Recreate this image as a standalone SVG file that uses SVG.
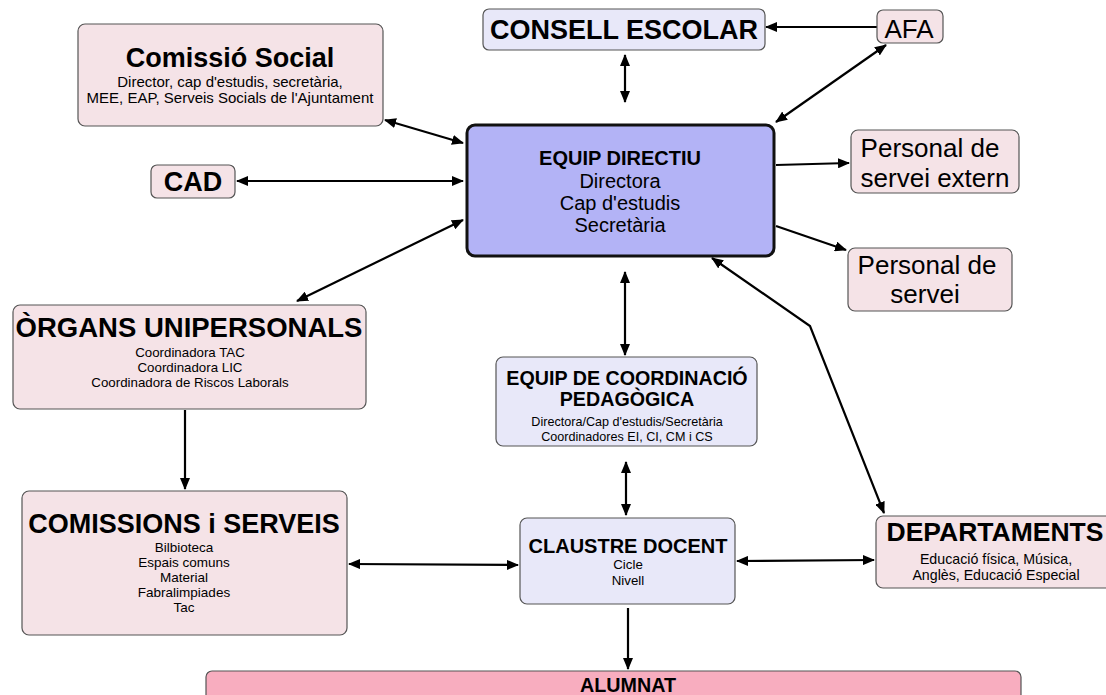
<svg xmlns="http://www.w3.org/2000/svg" width="1106" height="695" viewBox="0 0 1106 695">
<defs>
<marker id="ah" viewBox="0 0 12 10" refX="11" refY="5" markerWidth="12" markerHeight="10" markerUnits="userSpaceOnUse" orient="auto-start-reverse">
<path d="M0,0 L12,5 L0,10 Z" fill="#000"/>
</marker>
<style>
.pink{fill:#f5e3e7;stroke:#555;stroke-width:1.2}
.lav{fill:#e8e8f9;stroke:#555;stroke-width:1.2}
.t{font-family:"Liberation Sans",Arial,sans-serif;fill:#000;text-anchor:middle}
.b{font-weight:bold}
.c line,.c polyline{stroke:#000;stroke-width:2.2;fill:none}
</style>
</defs>
<rect width="1106" height="695" fill="#fff"/>
<g class="c">
<line x1="877" y1="27" x2="766" y2="27" marker-end="url(#ah)"/>
<line x1="625" y1="55" x2="625" y2="102" marker-start="url(#ah)" marker-end="url(#ah)"/>
<line x1="886" y1="45" x2="776" y2="122" marker-start="url(#ah)" marker-end="url(#ah)"/>
<line x1="385" y1="120" x2="463" y2="143" marker-start="url(#ah)" marker-end="url(#ah)"/>
<line x1="237" y1="181" x2="463" y2="181" marker-start="url(#ah)" marker-end="url(#ah)"/>
<line x1="776" y1="165" x2="849" y2="163" marker-end="url(#ah)"/>
<line x1="776" y1="226" x2="846" y2="250" marker-end="url(#ah)"/>
<line x1="463" y1="220" x2="297" y2="301" marker-start="url(#ah)" marker-end="url(#ah)"/>
<line x1="625" y1="272" x2="625" y2="355" marker-start="url(#ah)" marker-end="url(#ah)"/>
<polyline points="712,258 810,326 884,513" marker-start="url(#ah)" marker-end="url(#ah)"/>
<line x1="185" y1="410" x2="185" y2="489" marker-end="url(#ah)"/>
<line x1="626" y1="462" x2="626" y2="515" marker-start="url(#ah)" marker-end="url(#ah)"/>
<line x1="349" y1="564" x2="518" y2="565" marker-start="url(#ah)" marker-end="url(#ah)"/>
<line x1="737" y1="561" x2="874" y2="560" marker-start="url(#ah)" marker-end="url(#ah)"/>
<line x1="628" y1="608" x2="628" y2="669" marker-end="url(#ah)"/>
</g>
<g id="comissio-social">
<rect class="pink" x="78" y="24" width="305" height="102" rx="7"/>
<text class="t b" x="230" y="67" font-size="27">Comissió Social</text>
<text class="t" x="230" y="87" font-size="15">Director, cap d'estudis, secretària,</text>
<text class="t" x="230" y="103" font-size="15">MEE, EAP, Serveis Socials de l'Ajuntament</text>
</g>
<g id="consell-escolar">
<rect class="lav" x="483" y="9" width="282" height="41" rx="6"/>
<text class="t b" x="624" y="39" font-size="27">CONSELL ESCOLAR</text>
</g>
<g id="afa">
<rect class="pink" x="877" y="10" width="66" height="33" rx="6"/>
<text class="t" x="909" y="38" font-size="26">AFA</text>
</g>
<g id="equip-directiu">
<rect x="467" y="125" width="307" height="131" rx="8" fill="#b3b3f6" stroke="#111" stroke-width="3"/>
<text class="t b" x="620" y="165" font-size="20">EQUIP DIRECTIU</text>
<text class="t" x="620" y="188" font-size="20">Directora</text>
<text class="t" x="620" y="210" font-size="20">Cap d'estudis</text>
<text class="t" x="620" y="232" font-size="20">Secretària</text>
</g>
<g id="personal-extern">
<rect class="pink" x="851" y="130" width="168" height="63" rx="7"/>
<text class="t" x="930" y="157" font-size="26">Personal de</text>
<text class="t" x="935" y="187" font-size="26">servei extern</text>
</g>
<g id="personal-servei">
<rect class="pink" x="848" y="248" width="164" height="63" rx="7"/>
<text class="t" x="927" y="274" font-size="26">Personal de</text>
<text class="t" x="925" y="303" font-size="26">servei</text>
</g>
<g id="cad">
<rect class="pink" x="151" y="165" width="84" height="33" rx="6"/>
<text class="t b" x="193" y="191" font-size="27">CAD</text>
</g>
<g id="organs">
<rect class="pink" x="13" y="305" width="353" height="104" rx="7"/>
<text class="t b" x="189" y="337" font-size="27.5">ÒRGANS UNIPERSONALS</text>
<text class="t" x="190" y="357" font-size="13.3">Coordinadora TAC</text>
<text class="t" x="190" y="372" font-size="13.3">Coordinadora LIC</text>
<text class="t" x="190" y="387" font-size="13.3">Coordinadora de Riscos Laborals</text>
</g>
<g id="coordinacio">
<rect class="lav" x="496" y="357" width="261" height="89" rx="7"/>
<text class="t b" x="627" y="385" font-size="19.7">EQUIP DE COORDINACIÓ</text>
<text class="t b" x="627" y="406" font-size="19.7">PEDAGÒGICA</text>
<text class="t" x="627" y="426" font-size="12.6">Directora/Cap d'estudis/Secretària</text>
<text class="t" x="627" y="441" font-size="12.6">Coordinadores EI, CI, CM i CS</text>
</g>
<g id="comissions">
<rect class="pink" x="22" y="491" width="325" height="144" rx="7"/>
<text class="t b" x="184" y="533" font-size="27">COMISSIONS i SERVEIS</text>
<text class="t" x="184" y="552" font-size="13.5">Bilbioteca</text>
<text class="t" x="184" y="567" font-size="13.5">Espais comuns</text>
<text class="t" x="184" y="582" font-size="13.5">Material</text>
<text class="t" x="184" y="597" font-size="13.5">Fabralimpiades</text>
<text class="t" x="184" y="612" font-size="13.5">Tac</text>
</g>
<g id="claustre">
<rect class="lav" x="520" y="518" width="215" height="86" rx="7"/>
<text class="t b" x="628" y="553" font-size="20">CLAUSTRE DOCENT</text>
<text class="t" x="628" y="569" font-size="13.3">Cicle</text>
<text class="t" x="628" y="585" font-size="13.3">Nivell</text>
</g>
<g id="departaments">
<rect class="pink" x="876" y="516" width="240" height="72" rx="7"/>
<text class="t b" x="995" y="541" font-size="26.5">DEPARTAMENTS</text>
<text class="t" x="996" y="564" font-size="14.2">Educació física, Música,</text>
<text class="t" x="996" y="580" font-size="14.2">Anglès, Educació Especial</text>
</g>
<g id="alumnat">
<rect x="206" y="671" width="815" height="40" rx="6" fill="#f8adbf" stroke="#555" stroke-width="1.2"/>
<text class="t b" x="628" y="692" font-size="21" textLength="96" lengthAdjust="spacingAndGlyphs">ALUMNAT</text>
</g>
</svg>
